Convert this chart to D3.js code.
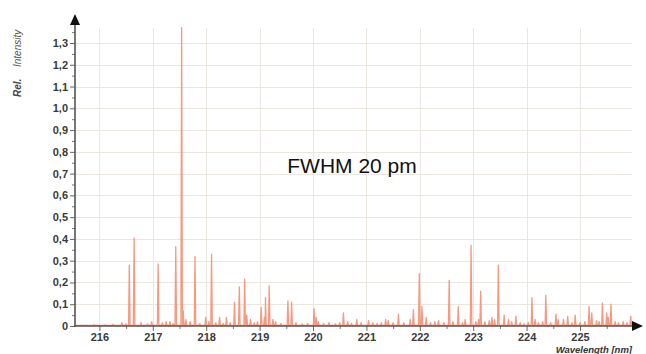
<!DOCTYPE html>
<html><head><meta charset="utf-8">
<script src="https://cdn.jsdelivr.net/npm/d3@7"></script>
<style>
html,body{margin:0;padding:0;background:#fff;}
svg{display:block;}
</style></head>
<body>
<svg id="chart" width="646" height="354"></svg>
<script>
// ---- data ----
const xTicks = [216, 217, 218, 219, 220, 221, 222, 223, 224, 225];
const xMinorTicks = [215.5, 216.5, 217.5, 218.5, 219.5, 220.5, 221.5, 222.5, 223.5, 224.5, 225.5];
const yTicks = [0, 0.1, 0.2, 0.3, 0.4, 0.5, 0.6, 0.7, 0.8, 0.9, 1.0, 1.1, 1.2, 1.3];
const yTickLabels = ["0", "0,1", "0,2", "0,3", "0,4", "0,5", "0,6", "0,7", "0,8", "0,9", "1,0", "1,1", "1,2", "1,3"];
const yMinorTicks = [0.05, 0.15, 0.25, 0.35, 0.45, 0.55, 0.65, 0.75, 0.85, 0.95, 1.05, 1.15, 1.25, 1.35];
const xLabel = "Wavelength [nm]";
const yLabelA = "Rel.";
const yLabelB = "Intensity";
const annotation = "FWHM 20 pm";
const spectrumRange = [215.55, 225.97];
const baseline = 0.003;
// emission lines: wavelength (nm) and relative intensity
const peakWl = [
  215.70, 215.90, 216.10, 216.25, 216.42, 216.50, 216.56, 216.65, 216.78, 216.90,
  216.98, 217.10, 217.18, 217.25, 217.32, 217.38, 217.43, 217.54, 217.57, 217.62,
  217.70, 217.79, 217.88, 217.99, 218.05, 218.10, 218.18, 218.25, 218.32, 218.38,
  218.45, 218.53, 218.62, 218.72, 218.76, 218.83, 218.90, 218.96, 219.03, 219.09,
  219.11, 219.18, 219.25, 219.30, 219.40, 219.53, 219.60, 219.68, 219.80, 219.90,
  220.02, 220.06, 220.10, 220.20, 220.30, 220.42, 220.50, 220.57, 220.65, 220.72,
  220.82, 220.90, 221.04, 221.12, 221.20, 221.28, 221.36, 221.41, 221.50, 221.60,
  221.70, 221.82, 221.88, 221.99, 222.04, 222.12, 222.20, 222.28, 222.35, 222.45,
  222.55, 222.62, 222.72, 222.80, 222.85, 222.96, 223.05, 223.10, 223.14, 223.22,
  223.30, 223.35, 223.40, 223.47, 223.58, 223.66, 223.72, 223.80, 223.88, 223.95,
  224.03, 224.10, 224.16, 224.22, 224.30, 224.36, 224.45, 224.55, 224.59, 224.69,
  224.77, 224.85, 224.91, 225.00, 225.09, 225.17, 225.22, 225.31, 225.36, 225.42,
  225.50, 225.53, 225.58, 225.66, 225.72, 225.81, 225.88, 225.95
];
const peakInt = [
  0.004, 0.006, 0.005, 0.008, 0.015, 0.010, 0.280, 0.405, 0.015, 0.010,
  0.020, 0.285, 0.015, 0.020, 0.020, 0.012, 0.365, 1.370, 0.070, 0.030,
  0.020, 0.320, 0.012, 0.040, 0.020, 0.330, 0.015, 0.040, 0.012, 0.040,
  0.015, 0.110, 0.180, 0.215, 0.050, 0.030, 0.015, 0.020, 0.085, 0.040,
  0.130, 0.185, 0.030, 0.020, 0.012, 0.115, 0.110, 0.015, 0.010, 0.012,
  0.080, 0.040, 0.020, 0.012, 0.015, 0.010, 0.015, 0.060, 0.020, 0.012,
  0.030, 0.015, 0.025, 0.015, 0.012, 0.015, 0.030, 0.025, 0.015, 0.055,
  0.015, 0.030, 0.075, 0.240, 0.090, 0.040, 0.015, 0.020, 0.025, 0.015,
  0.210, 0.020, 0.090, 0.015, 0.030, 0.370, 0.020, 0.030, 0.160, 0.020,
  0.025, 0.040, 0.030, 0.280, 0.050, 0.030, 0.020, 0.045, 0.015, 0.010,
  0.015, 0.130, 0.030, 0.015, 0.020, 0.140, 0.015, 0.055, 0.030, 0.030,
  0.045, 0.015, 0.050, 0.015, 0.020, 0.090, 0.060, 0.025, 0.020, 0.105,
  0.060, 0.040, 0.100, 0.020, 0.015, 0.020, 0.015, 0.045
];

// ---- drawing ----
const svg = d3.select("#chart");
const x = d3.scaleLinear().domain([216, 225]).range([99.4, 580]);
const y = d3.scaleLinear().domain([0, 1.3]).range([326, 43]);
const axisX0 = 75, axisRight = 643, axisTop = 14;
const gridRight = 632, gridTop = y(1.37);
const font = "'Liberation Sans', Arial, Helvetica, sans-serif";

// grid
const grid = svg.append("g").attr("stroke", "#ebe6df").attr("stroke-width", 1);
grid.selectAll("line.h").data(yTicks.slice(1)).join("line")
  .attr("x1", axisX0).attr("x2", gridRight)
  .attr("y1", d => Math.round(y(d)) + 0.5).attr("y2", d => Math.round(y(d)) + 0.5);
grid.selectAll("line.v").data(xTicks).join("line")
  .attr("y1", gridTop).attr("y2", y(0))
  .attr("x1", d => Math.round(x(d)) + 0.5).attr("x2", d => Math.round(x(d)) + 0.5);

// spectrum line built from the peak list
const pts = [[spectrumRange[0], baseline]];
const hw = 0.014;
peakWl.forEach((w, i) => {
  pts.push([w - hw, baseline]);
  pts.push([w, peakInt[i]]);
  pts.push([w + hw, baseline]);
});
pts.push([spectrumRange[1], baseline]);
pts.sort((a, b) => a[0] - b[0]);
const line = d3.line().x(d => x(d[0])).y(d => y(d[1]));
svg.append("path").datum(pts)
  .attr("d", line)
  .attr("fill", "none")
  .attr("stroke", "#f3876b")
  .attr("stroke-opacity", 0.85)
  .attr("stroke-width", 1.3)
  .attr("stroke-linejoin", "round");

// y axis
const yAxis = d3.axisLeft(y).tickValues(yTicks).tickSize(5).tickPadding(2)
  .tickFormat((d, i) => yTickLabels[i]);
const gy = svg.append("g").attr("transform", `translate(${axisX0},0)`).call(yAxis);
gy.select(".domain").remove();
gy.selectAll(".tick line").attr("stroke", "#666");
gy.selectAll(".tick text").attr("font-family", font).attr("font-size", 11)
  .attr("font-weight", "bold").attr("fill", "#3a3a3a");
const yMinor = d3.axisLeft(y).tickValues(yMinorTicks).tickSize(3).tickFormat("");
const gym = svg.append("g").attr("transform", `translate(${axisX0},0)`).call(yMinor);
gym.select(".domain").remove();
gym.selectAll(".tick line").attr("stroke", "#777");

// x axis
const xAxis = d3.axisBottom(x).tickValues(xTicks).tickSize(5).tickPadding(2).tickFormat(d3.format("d"));
const gx = svg.append("g").attr("transform", `translate(0,${y(0)})`).call(xAxis);
gx.select(".domain").remove();
gx.selectAll(".tick line").attr("stroke", "#666");
gx.selectAll(".tick text").attr("font-family", font).attr("font-size", 11)
  .attr("font-weight", "bold").attr("fill", "#3a3a3a");
const xMinor = d3.axisBottom(x).tickValues(xMinorTicks.filter(v => x(v) > axisX0 + 2)).tickSize(3).tickFormat("");
const gxm = svg.append("g").attr("transform", `translate(0,${y(0)})`).call(xMinor);
gxm.select(".domain").remove();
gxm.selectAll(".tick line").attr("stroke", "#777");

// axis lines with arrowheads
svg.append("line").attr("x1", axisX0).attr("x2", axisX0).attr("y1", y(0) + 1).attr("y2", axisTop + 8)
  .attr("stroke", "#555").attr("stroke-width", 1.6);
svg.append("line").attr("x1", axisX0 - 1).attr("x2", axisRight - 8).attr("y1", y(0)).attr("y2", y(0))
  .attr("stroke", "#555").attr("stroke-width", 1.6);
svg.append("path").attr("d", `M${axisX0},${axisTop} L${axisX0 - 5},${axisTop + 11} L${axisX0 + 5},${axisTop + 11} Z`)
  .attr("fill", "#111");
svg.append("path").attr("d", `M${axisRight},${y(0)} L${axisRight - 11},${y(0) - 5} L${axisRight - 11},${y(0) + 5} Z`)
  .attr("fill", "#111");

// axis titles
svg.append("text").attr("x", 632).attr("y", 353).attr("text-anchor", "end")
  .attr("font-family", font).attr("font-size", 9.5).attr("font-style", "italic").attr("font-weight", "bold")
  .attr("fill", "#333").text(xLabel);
svg.append("text").attr("transform", "translate(21,97) rotate(-90)")
  .attr("font-family", font).attr("font-size", 10).attr("font-style", "italic").attr("font-weight", "bold")
  .attr("fill", "#444").text(yLabelA);
svg.append("text").attr("transform", "translate(21,67) rotate(-90)")
  .attr("font-family", font).attr("font-size", 10).attr("font-style", "italic")
  .attr("fill", "#555").text(yLabelB);

// annotation
svg.append("text").attr("x", 352).attr("y", 173).attr("text-anchor", "middle")
  .attr("font-family", font).attr("font-size", 21).attr("fill", "#111").text(annotation);
</script>
</body></html>
